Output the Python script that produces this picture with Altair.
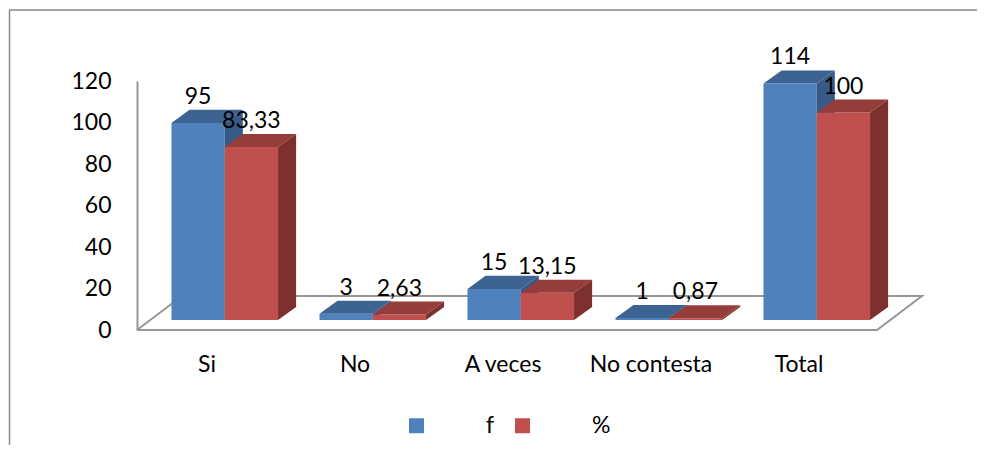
import altair as alt
import pandas as pd

# ---- data ----
categorias = ["Si", "No", "A veces", "No contesta", "Total"]
serie_f = [95, 3, 15, 1, 114]
serie_pct = [83.33, 2.63, 13.15, 0.87, 100]
series = ["f", "%"]
ticks_y = [0, 20, 40, 60, 80, 100, 120]

# ---- styles ----
AZUL, AZUL_TOP, AZUL_SIDE = "#4F81BD", "#3C6391", "#375A86"
ROJO, ROJO_TOP, ROJO_SIDE = "#C0504D", "#943D3B", "#7E302E"
GRIS = "#969696"
BORDE = "#8C8C8C"
FONT = "Lato"
FS = 23
W, H = 968, 435

# geometry (category units on x, value units on y)
BAR_START = 0.233
BAR_W = 0.36
DX = 0.122
DY = 6.27
FLOOR_DX = 0.304
FLOOR_DY = 16.4
BAR_LIFT = -10  # px: bars stand in the middle of the floor depth


def fmt(v):
    return f"{v:g}".replace(".", ",")


fronts, tops, sides = [], [], []
for si, (s, vals) in enumerate(zip(series, [serie_f, serie_pct])):
    for i, (c, v) in enumerate(zip(categorias, vals)):
        L = i + BAR_START + si * BAR_W
        R = L + BAR_W
        fronts.append(dict(serie=s, cat=c, L=L, R=R, C=(L + R) / 2, v=v, label=fmt(v)))
        for x, yt, yb in [(L, v, v), (L + DX, v + DY, v), (R, v + DY, v), (R + DX, v + DY, v + DY)]:
            tops.append(dict(serie=s, cat=c, x=x, yt=yt, yb=yb))
        for x, yt, yb in [(R, v, 0), (R + DX, v + DY, DY)]:
            sides.append(dict(serie=s, cat=c, x=x, yt=yt, yb=yb))

fronts = pd.DataFrame(fronts)
tops = pd.DataFrame(tops)
sides = pd.DataFrame(sides)

n = len(categorias)
floor = pd.DataFrame(dict(
    k=[0, 1, 2, 3, 4],
    x=[0, FLOOR_DX, n + FLOOR_DX, n, 0],
    y=[0, FLOOR_DY, FLOOR_DY, 0, 0],
))
cats = pd.DataFrame(dict(x=[i + 0.5 for i in range(n)], cat=categorias))
one = pd.DataFrame(dict(a=[0]))

xs = alt.Scale(domain=[0, n], range=[128, 868], nice=False, zero=False)
ys = alt.Scale(domain=[0, 120], range=[320, 71], nice=False, zero=False)
yaxis = alt.Axis(values=ticks_y, title=None, grid=False, ticks=False, tickSize=0,
                 domainColor=GRIS, domainWidth=2, labelFont=FONT, labelFontSize=FS,
                 labelColor="black", labelPadding=26, offset=-128)

color = alt.Color("serie:N", scale=alt.Scale(domain=series, range=[AZUL, ROJO]),
                  legend=alt.Legend(orient="none", legendX=396, legendY=404,
                                    direction="horizontal", title=None,
                                    symbolType="square", symbolSize=225,
                                    symbolStrokeWidth=0, labelOffset=58,
                                    columnPadding=16, labelFont=FONT,
                                    labelFontSize=FS, labelColor="black",
                                    padding=0))

# chart frame (left and top edges; the others fall outside the picture)
frame_left = alt.Chart(one).mark_rule(color=BORDE, strokeWidth=1.5).encode(
    x=alt.value(0.5), y=alt.value(0), y2=alt.value(H))
frame_top = alt.Chart(one).mark_rule(color=BORDE, strokeWidth=1.5).encode(
    y=alt.value(0), x=alt.value(0), x2=alt.value(W))

floor_layer = alt.Chart(floor).mark_line(color=GRIS, strokeWidth=2).encode(
    x=alt.X("x:Q", scale=xs, axis=None),
    y=alt.Y("y:Q", scale=ys, axis=yaxis),
    order="k:O",
)

layers = [frame_left, frame_top, floor_layer]
for s, ctop, cside in [("f", AZUL_TOP, AZUL_SIDE), ("%", ROJO_TOP, ROJO_SIDE)]:
    front = alt.Chart(fronts[fronts.serie == s]).mark_bar(
        yOffset=BAR_LIFT, y2Offset=BAR_LIFT).encode(
        x=alt.X("L:Q", scale=xs, axis=None),
        x2="R:Q",
        y=alt.Y("v:Q", scale=ys, axis=yaxis),
        y2=alt.datum(0),
        color=color,
    )
    top = alt.Chart(tops[tops.serie == s]).mark_area(
        color=ctop, yOffset=BAR_LIFT, y2Offset=BAR_LIFT).encode(
        x=alt.X("x:Q", scale=xs, axis=None),
        y=alt.Y("yt:Q", scale=ys, axis=yaxis),
        y2="yb:Q",
        detail="cat:N",
    )
    side = alt.Chart(sides[sides.serie == s]).mark_area(
        color=cside, yOffset=BAR_LIFT, y2Offset=BAR_LIFT).encode(
        x=alt.X("x:Q", scale=xs, axis=None),
        y=alt.Y("yt:Q", scale=ys, axis=yaxis),
        y2="yb:Q",
        detail="cat:N",
    )
    layers += [front, top, side]

labels = alt.Chart(fronts).mark_text(
    font=FONT, fontSize=FS, color="black", baseline="middle", dy=-26 + BAR_LIFT).encode(
    x=alt.X("C:Q", scale=xs, axis=None),
    y=alt.Y("v:Q", scale=ys, axis=yaxis),
    text="label:N",
)
cat_labels = alt.Chart(cats).mark_text(
    font=FONT, fontSize=FS, color="black", baseline="middle", dy=35, dx=-4).encode(
    x=alt.X("x:Q", scale=xs, axis=None),
    y=alt.datum(0, scale=ys),
    text="cat:N",
)
layers += [labels, cat_labels]

chart = alt.layer(*layers).properties(
    width=W, height=H,
    autosize=alt.AutoSizeParams(type="none"),
    padding={"left": 1, "top": 2, "right": 0, "bottom": 0},
).configure_view(stroke=None).configure(background="white")

chart.save("out.html", embed_options={"renderer": "svg", "actions": False})
